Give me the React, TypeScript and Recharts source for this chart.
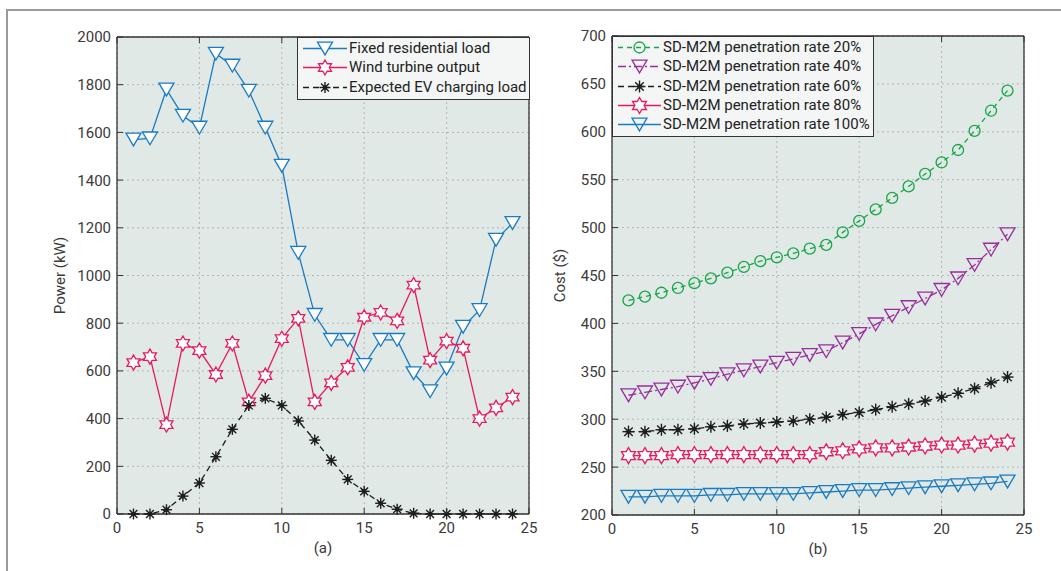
import React from 'react';
import { LineChart, Line, XAxis, YAxis, CartesianGrid, Legend, Label } from 'recharts';

// hours of the day (x values shared by both panels)
const hours = [1, 2, 3, 4, 5, 6, 7, 8, 9, 10, 11, 12, 13, 14, 15, 16, 17, 18, 19, 20, 21, 22, 23, 24];

// panel (a) - power in kW
const fixedLoad = [1570, 1575, 1780, 1670, 1620, 1930, 1880, 1775, 1620, 1460, 1095, 835, 730, 730, 625, 730, 730, 590, 515, 610, 785, 855, 1150, 1220];
const windOutput = [635, 660, 375, 715, 685, 585, 715, 470, 580, 735, 820, 470, 550, 615, 825, 845, 810, 960, 645, 725, 695, 400, 445, 490];
const evLoad = [0, 0, 18, 75, 130, 240, 355, 455, 485, 455, 390, 310, 225, 145, 95, 45, 20, 3, 0, 0, 0, 0, 0, 0];

// panel (b) - cost in $
const cost20 = [424, 428, 432, 437, 442, 447, 453, 459, 465, 469, 473, 478, 482, 495, 507, 519, 531, 543, 556, 568, 581, 601, 622, 643];
const cost40 = [325, 328, 331, 334, 338, 342, 347, 351, 355, 359, 363, 367, 371, 380, 389, 399, 408, 417, 426, 435, 447, 461, 477, 493];
const cost60 = [287, 287, 289, 289, 290, 292, 293, 295, 296, 297, 298, 300, 302, 305, 307, 310, 313, 316, 319, 323, 327, 332, 338, 344];
const cost80 = [262, 262, 262, 263, 263, 263, 263, 263, 263, 263, 263, 263, 266, 267, 269, 270, 270, 271, 272, 273, 273, 274, 275, 276];
const cost100 = [219, 219, 220, 220, 220, 221, 221, 222, 222, 222, 222, 223, 224, 225, 226, 226, 227, 228, 229, 230, 231, 232, 233, 235];

const xTicks = [0, 5, 10, 15, 20, 25];
const powerTicks = [0, 200, 400, 600, 800, 1000, 1200, 1400, 1600, 1800, 2000];
const costTicks = [200, 250, 300, 350, 400, 450, 500, 550, 600, 650, 700];

const powerData = hours.map((h, i) => ({ hour: h, fixed: fixedLoad[i], wind: windOutput[i], ev: evLoad[i] }));
const costData = hours.map((h, i) => ({ hour: h, c20: cost20[i], c40: cost40[i], c60: cost60[i], c80: cost80[i], c100: cost100[i] }));

const BLUE = '#1a7bc3';
const RED = '#e8195c';
const BLACK = '#1e1e1e';
const GREEN = '#16a64a';
const PURPLE = '#9a2d9e';
const AXIS = '#333';
const TEXT = '#3a3a3a';
const FONT = 'Roboto, "Noto Sans", sans-serif';

type Series = { key: string; name: string; color: string; marker: string; fill: string; dash?: string; size: number };

const leftSeries: Series[] = [
  { key: 'fixed', name: 'Fixed residential load', color: BLUE, marker: 'tri', fill: '#fff', size: 7.5 },
  { key: 'wind', name: 'Wind turbine output', color: RED, marker: 'hex', fill: '#fff', size: 7.5 },
  { key: 'ev', name: 'Expected EV charging load', color: BLACK, marker: 'ast', fill: 'none', dash: '6 4', size: 5.5 },
];

const rightSeries: Series[] = [
  { key: 'c20', name: 'SD-M2M penetration rate 20%', color: GREEN, marker: 'circle', fill: 'none', dash: '5 4', size: 5.5 },
  { key: 'c40', name: 'SD-M2M penetration rate 40%', color: PURPLE, marker: 'tri', fill: 'none', dash: '8 3 2 3', size: 7.5 },
  { key: 'c60', name: 'SD-M2M penetration rate 60%', color: BLACK, marker: 'ast', fill: 'none', dash: '6 4', size: 6 },
  { key: 'c80', name: 'SD-M2M penetration rate 80%', color: RED, marker: 'hex', fill: '#fff', size: 8 },
  { key: 'c100', name: 'SD-M2M penetration rate 100%', color: BLUE, marker: 'tri', fill: 'none', size: 7.5 },
];

function hexPath(cx: number, cy: number, r: number) {
  const pts: string[] = [];
  for (let i = 0; i < 12; i++) {
    const a = ((-90 + i * 30) * Math.PI) / 180;
    const rr = i % 2 === 0 ? r : r / Math.sqrt(3);
    pts.push(`${cx + rr * Math.cos(a)},${cy + rr * Math.sin(a)}`);
  }
  return 'M' + pts.join('L') + 'Z';
}

function Marker({ cx, cy, s }: { cx: number; cy: number; s: Series }) {
  const r = s.size;
  if (s.marker === 'tri') {
    const h = r * 0.85;
    return <polygon points={`${cx - r},${cy - h} ${cx + r},${cy - h} ${cx},${cy + h}`} fill={s.fill} stroke={s.color} strokeWidth={1.3} />;
  }
  if (s.marker === 'hex') {
    return <path d={hexPath(cx, cy, r)} fill={s.fill} stroke={s.color} strokeWidth={1.3} />;
  }
  if (s.marker === 'circle') {
    return <circle cx={cx} cy={cy} r={r} fill={s.fill} stroke={s.color} strokeWidth={1.3} />;
  }
  const d = r * 0.7071;
  return (
    <g stroke={s.color} strokeWidth={1.4}>
      <line x1={cx - r} y1={cy} x2={cx + r} y2={cy} />
      <line x1={cx} y1={cy - r} x2={cx} y2={cy + r} />
      <line x1={cx - d} y1={cy - d} x2={cx + d} y2={cy + d} />
      <line x1={cx - d} y1={cy + d} x2={cx + d} y2={cy - d} />
      <circle cx={cx} cy={cy} r={1.6} fill={s.color} />
    </g>
  );
}

const BottomTick = (props: any) => {
  const { x, y, payload } = props;
  return (
    <g>
      <line x1={x} y1={y} x2={x} y2={y - 6} stroke={AXIS} />
      <text x={x} y={y + 19} textAnchor="middle" fontSize={15} fill={TEXT} fontFamily={FONT}>{payload.value}</text>
    </g>
  );
};
const TopTick = (props: any) => <line x1={props.x} y1={props.y} x2={props.x} y2={props.y + 6} stroke={AXIS} />;
const LeftTick = (props: any) => {
  const { x, y, payload } = props;
  return (
    <g>
      <line x1={x} y1={y} x2={x + 6} y2={y} stroke={AXIS} />
      <text x={x - 6} y={y} dy="0.36em" textAnchor="end" fontSize={15} fill={TEXT} fontFamily={FONT}>{payload.value}</text>
    </g>
  );
};
const RightTick = (props: any) => <line x1={props.x} y1={props.y} x2={props.x - 6} y2={props.y} stroke={AXIS} />;

function LegendBox({ items, width, sample }: { items: Series[]; width: number; sample: number }) {
  return (
    <div style={{ width, boxSizing: 'border-box', border: `1px solid ${AXIS}`, background: '#f3f6f5', padding: '1px 0 2px 0' }}>
      {items.map((s) => (
        <div key={s.key} style={{ display: 'flex', alignItems: 'center', height: 19.3 }}>
          <svg width={sample} height={19} style={{ flex: 'none' }}>
            <line x1={5} y1={9.5} x2={sample - 2} y2={9.5} stroke={s.color} strokeWidth={1.3} strokeDasharray={s.dash} />
            <Marker cx={(sample + 3) / 2} cy={9.5} s={s} />
          </svg>
          <span style={{ fontSize: 15, color: '#222', fontFamily: FONT, whiteSpace: 'nowrap', lineHeight: '19px' }}>{s.name}</span>
        </div>
      ))}
    </div>
  );
}

function Panel({ data, series, ticks, domain, yLabel, xLabel, yLabelOffset, legend, margin, width }: any) {
  return (
    <LineChart width={width} height={571} data={data} margin={margin}>
      <CartesianGrid stroke="#b4b4b4" strokeDasharray="2 3" fill="#e0e9e5" fillOpacity={1} />
      {series.map((s: Series) => (
        <Line key={s.key} dataKey={s.key} name={s.name} type="linear" stroke={s.color} strokeWidth={1.3} strokeDasharray={s.dash}
          isAnimationActive={false} activeDot={false}
          dot={(p: any) => <Marker key={`${s.key}-${p.index}`} cx={p.cx} cy={p.cy} s={s} />} />
      ))}
      <XAxis dataKey="hour" type="number" domain={[0, 25]} ticks={xTicks} interval={0} height={1} tickSize={0} tickMargin={0}
        tickLine={false} tick={<BottomTick />} axisLine={{ stroke: AXIS, strokeWidth: 1.3 }}>
        <Label content={(p: any) => {
          const vb = p.viewBox;
          return <text x={vb.x + vb.width / 2} y={vb.y + 39} textAnchor="middle" fontSize={15} fill={TEXT} fontFamily={FONT}>{xLabel}</text>;
        }} />
      </XAxis>
      <XAxis xAxisId="top" orientation="top" dataKey="hour" type="number" domain={[0, 25]} ticks={xTicks} interval={0} height={1}
        tickSize={0} tickMargin={0} tickLine={false} tick={<TopTick />} axisLine={{ stroke: AXIS, strokeWidth: 1.3 }} />
      <YAxis type="number" domain={domain} ticks={ticks} interval={0} width={1} tickSize={0} tickMargin={0} tickLine={false}
        tick={<LeftTick />} axisLine={{ stroke: AXIS, strokeWidth: 1.3 }}>
        <Label content={(p: any) => {
          const vb = p.viewBox;
          return (
            <text transform={`translate(${vb.x + vb.width - yLabelOffset}, ${vb.y + vb.height / 2}) rotate(-90)`} textAnchor="middle"
              fontSize={15} fill={TEXT} fontFamily={FONT}>{yLabel}</text>
          );
        }} />
      </YAxis>
      <YAxis yAxisId="right" orientation="right" type="number" domain={domain} ticks={ticks} interval={0} width={1} tickSize={0}
        tickMargin={0} tickLine={false} tick={<RightTick />} axisLine={{ stroke: AXIS, strokeWidth: 1.3 }} />
      <Legend layout="horizontal" verticalAlign="middle" align="center" wrapperStyle={legend.style}
        content={() => <LegendBox items={series} width={legend.width} sample={legend.sample} />} />
    </LineChart>
  );
}

export default function App() {
  return (
    <div style={{ position: 'absolute', left: 0, top: 0, width: 1061, height: 571, background: '#fff', overflow: 'hidden' }}>
      <div style={{ position: 'absolute', left: 6, top: 9, width: 1061, height: 571, borderTop: '2px solid #9a9a9a', borderLeft: '2px solid #9a9a9a' }} />
      <div style={{ position: 'absolute', left: 0, top: 0 }}>
        <Panel data={powerData} series={leftSeries} ticks={powerTicks} domain={[0, 2000]} yLabel="Power (kW)" xLabel="(a)"
          yLabelOffset={52} width={540} margin={{ top: 36, left: 116, right: 10, bottom: 56 }}
          legend={{ width: 233, sample: 51, style: { left: 297, top: 37, width: 233 } }} />
      </div>
      <div style={{ position: 'absolute', left: 530, top: 0 }}>
        <Panel data={costData} series={rightSeries} ticks={costTicks} domain={[200, 700]} yLabel="Cost ($)" xLabel="(b)"
          yLabelOffset={47} width={531} margin={{ top: 35, left: 81, right: 36, bottom: 55 }}
          legend={{ width: 262, sample: 50, style: { left: 82, top: 36, width: 262 } }} />
      </div>
    </div>
  );
}
